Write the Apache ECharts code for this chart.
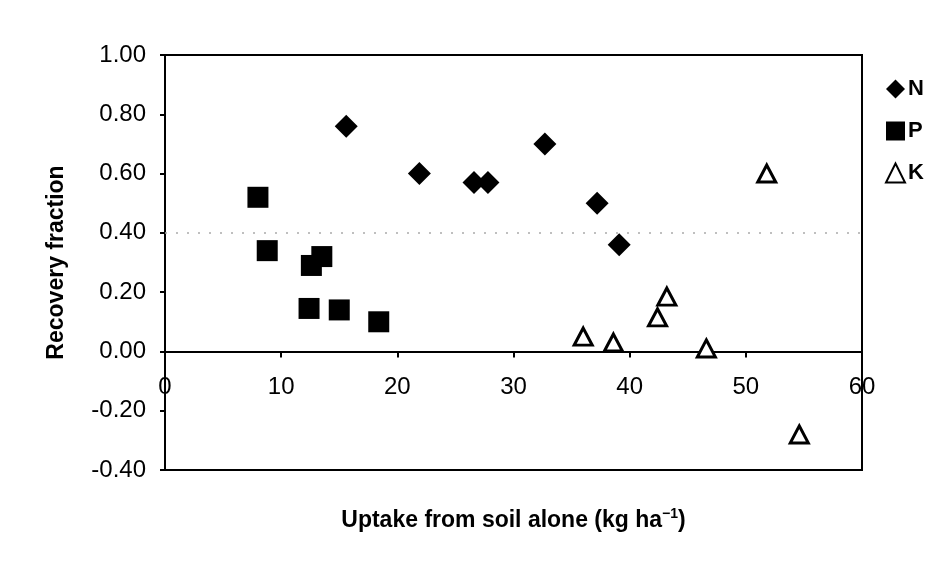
<!DOCTYPE html>
<html>
<head>
<meta charset="utf-8">
<script src="https://cdn.jsdelivr.net/npm/echarts@6/dist/echarts.min.js"></script>
<style>
  html, body { margin: 0; padding: 0; background: #fff; }
  #chart { width: 952px; height: 563px; }
</style>
</head>
<body>
<div id="chart"></div>
<script>
// Nutrient recovery fraction vs. uptake from soil alone
const nPoints = [[15.6, 0.76], [21.9, 0.60], [26.6, 0.57], [27.8, 0.57], [32.7, 0.70], [37.2, 0.50], [39.1, 0.36]];
const pPoints = [[8.0, 0.52], [8.8, 0.34], [12.6, 0.29], [13.5, 0.32], [12.4, 0.145], [15.0, 0.14], [18.4, 0.10]];
const kPoints = [[51.8, 0.60], [43.2, 0.185], [42.4, 0.115], [36.0, 0.05], [38.6, 0.03], [46.6, 0.01], [54.6, -0.28]];
const seriesNames = ['N', 'P', 'K'];
const xTitle = 'Uptake from soil alone (kg ha{sup|\u22121})';
const yTitle = 'Recovery fraction';

const FONT = '"Liberation Sans", Arial, sans-serif';
const chart = echarts.init(document.getElementById('chart'), null, { renderer: 'canvas' });

chart.setOption({
  backgroundColor: '#fff',
  animation: false,
  grid: {
    left: 165, right: 90, top: 55, bottom: 93,
    containLabel: false, outerBoundsMode: 'none',
    show: true, borderColor: '#000', borderWidth: 2, backgroundColor: 'transparent'
  },
  legend: {
    orient: 'vertical',
    left: 880, top: 73,
    itemGap: 20, itemWidth: 19, itemHeight: 19,
    data: seriesNames,
    textStyle: { fontFamily: FONT, fontSize: 22, fontWeight: 'bold', color: '#000', padding: [0, 0, 0, -2] }
  },
  xAxis: {
    type: 'value', min: 0, max: 60, interval: 10,
    position: 'bottom', offset: 0,
    name: xTitle, nameLocation: 'middle', nameGap: 156,
    nameTextStyle: {
      fontFamily: FONT, fontSize: 23, fontWeight: 'bold', color: '#000', lineHeight: 26,
      rich: { sup: { fontFamily: FONT, fontSize: 14, fontWeight: 'bold', color: '#000', verticalAlign: 'top', lineHeight: 26, padding: [0, 0, 12, 0] } }
    },
    axisLine: { show: true, onZero: false, lineStyle: { color: '#000', width: 2 } },
    axisTick: { show: true, length: 6, inside: false, lineStyle: { color: '#000', width: 2 } },
    axisLabel: { margin: 24, fontFamily: FONT, fontSize: 24, color: '#000' },
    splitLine: { show: false }
  },
  yAxis: {
    type: 'value', min: -0.4, max: 1.0, interval: 0.2,
    name: yTitle, nameLocation: 'middle', nameRotate: 90, nameGap: 97,
    nameTextStyle: { fontFamily: FONT, fontSize: 23, fontWeight: 'bold', color: '#000' },
    axisLine: { show: true, onZero: false, lineStyle: { color: '#000', width: 2 } },
    axisTick: { show: true, length: 5, lineStyle: { color: '#000', width: 2 } },
    axisLabel: {
      margin: 19, fontFamily: FONT, fontSize: 24, color: '#000',
      formatter: v => v.toFixed(2)
    },
    splitLine: { show: false }
  },
  series: [
    {
      name: 'N', type: 'scatter', data: nPoints,
      symbol: 'diamond', symbolSize: 23,
      itemStyle: { color: '#000', opacity: 1 },
      markLine: {
        silent: true, symbol: 'none', label: { show: false },
        lineStyle: { color: '#aaa', type: [2, 9], width: 1.5 },
        data: [{ yAxis: 0.4 }]
      }
    },
    {
      name: 'P', type: 'scatter', data: pPoints,
      symbol: 'rect', symbolSize: 21,
      itemStyle: { color: '#000', opacity: 1 }
    },
    {
      name: 'K', type: 'scatter', data: kPoints,
      symbol: 'triangle', symbolSize: [18, 17],
      itemStyle: { color: '#fff', borderColor: '#000', borderWidth: 3, opacity: 1 }
    }
  ]
});

// The x axis crosses at y = 0: shift it (line, ticks, labels, title) up from the grid bottom.
const zeroY = chart.convertToPixel({ yAxisIndex: 0 }, 0);
const bottomY = chart.convertToPixel({ yAxisIndex: 0 }, -0.4);
chart.setOption({ xAxis: { offset: zeroY - bottomY } });
</script>
</body>
</html>
